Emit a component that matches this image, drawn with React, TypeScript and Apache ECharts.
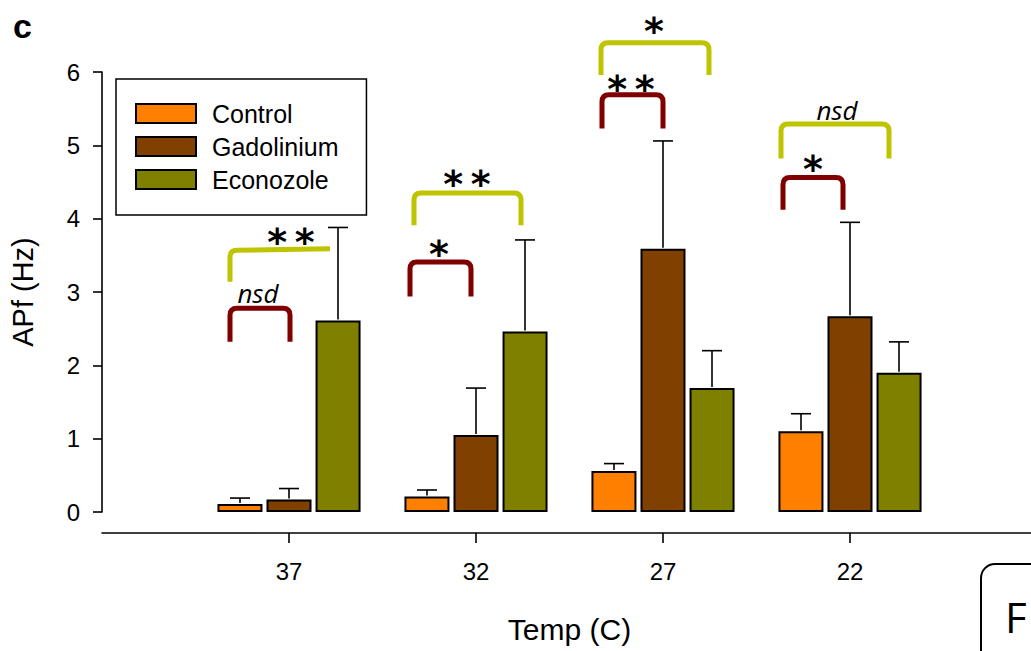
import React, { useEffect, useRef } from 'react';
import * as echarts from 'echarts';

// ---- data ----
const categories = ['37', '32', '27', '22'];
const seriesNames = ['Control', 'Gadolinium', 'Econozole'];
const controlValues = [0.11, 0.21, 0.56, 1.1];
const controlErrTop = [0.19, 0.3, 0.66, 1.34];
const gadoliniumValues = [0.17, 1.05, 3.59, 2.67];
const gadoliniumErrTop = [0.32, 1.69, 5.06, 3.95];
const econozoleValues = [2.61, 2.46, 1.69, 1.9];
const econozoleErrTop = [3.88, 3.71, 2.2, 2.32];

// significance brackets (y in data units)
const bracketCategory = ['37', '37', '32', '32', '27', '27', '22', '22'];
const bracketKind = ['gad', 'eco', 'gad', 'eco', 'gad', 'eco', 'gad', 'eco'];
const bracketTopLeft = [2.78, 3.57, 3.41, 4.35, 5.69, 6.4, 4.56, 5.29];
const bracketTopRight = [2.78, 3.59, 3.41, 4.35, 5.69, 6.4, 4.56, 5.29];
const bracketBottom = [2.32, 3.14, 2.94, 3.91, 5.23, 5.96, 4.12, 4.82];
const bracketLabel = ['nsd', '**', '*', '**', '**', '*', '*', 'nsd'];
const bracketLabelY = [2.99, 3.8, 3.64, 4.6, 5.89, 6.68, 4.8, 5.48];
const bracketHalf = [false, true, false, false, false, false, false, false];

// ---- layout / style (pixels) ----
const bracketX1 = [-59, -59, -66, -62, -61, -62, -67, -69];
const bracketX2 = [1, 41, -5, 45, 0, 46, -7, 39];
const bracketLabelX = [-31, 2, -37, -9, -32, -9, -37, -13];

const COLORS = ['#FF8000', '#804000', '#808000'];
const BRACKET_COLORS: Record<string, string> = { gad: '#800000', eco: '#BEC400' };
const FONT = 'Liberation Sans, Arial, Helvetica, sans-serif';
const BAR_WIDTH = 45;
const BAR_PITCH = 49;
const CHART_W = 1040;

export default function App() {
  const ref = useRef<HTMLDivElement>(null);

  useEffect(() => {
    document.body.style.margin = '0';
    document.body.style.overflow = 'hidden';
    if (!ref.current) return;
    const chart = echarts.init(ref.current, undefined, { renderer: 'svg' });

    const axisData = ['', ...categories, ''];
    const pad = (arr: number[]) => ['-', ...arr, '-'];
    const values = [controlValues, gadoliniumValues, econozoleValues];
    const errTops = [controlErrTop, gadoliniumErrTop, econozoleErrTop];

    const barSeries = seriesNames.map((name, i) => ({
      type: 'bar',
      name,
      data: pad(values[i]),
      barWidth: BAR_WIDTH,
      barGap: '9%',
      itemStyle: { color: COLORS[i], borderColor: '#000', borderWidth: 2 },
      z: 2,
    }));

    const errSeries = seriesNames.map((_, i) => ({
      type: 'custom',
      clip: false,
      z: 3,
      data: categories.map((c, k) => [k + 1, values[i][k], errTops[i][k]]),
      renderItem: (params: any, api: any) => {
        const x = api.value(0);
        const p0 = api.coord([x, api.value(1)]);
        const p1 = api.coord([x, api.value(2)]);
        const cx = p0[0] + (i - 1) * BAR_PITCH;
        const st = { stroke: '#000', lineWidth: 1.6 };
        return {
          type: 'group',
          children: [
            { type: 'line', shape: { x1: cx, y1: p0[1] - 1, x2: cx, y2: p1[1] }, style: st },
            { type: 'line', shape: { x1: cx - 10, y1: p1[1], x2: cx + 10, y2: p1[1] }, style: st },
          ],
        };
      },
    }));

    const bracketSeries = {
      type: 'custom',
      clip: false,
      z: 4,
      data: bracketCategory.map((c, k) => [categories.indexOf(c) + 1, bracketTopLeft[k], bracketBottom[k]]),
      renderItem: (params: any, api: any) => {
        const k = params.dataIndex;
        const xv = api.value(0);
        const c = api.coord([xv, 0])[0];
        const yL = api.coord([xv, bracketTopLeft[k]])[1];
        const yR = api.coord([xv, bracketTopRight[k]])[1];
        const yB = api.coord([xv, bracketBottom[k]])[1];
        const x1 = c + bracketX1[k];
        const x2 = c + bracketX2[k];
        const r = 7;
        let d = `M${x1} ${yB} L${x1} ${yL + r} Q${x1} ${yL} ${x1 + r} ${yL}`;
        if (bracketHalf[k]) {
          d += ` L${x2} ${yR}`;
        } else {
          d += ` L${x2 - r} ${yR} Q${x2} ${yR} ${x2} ${yR + r} L${x2} ${yB}`;
        }
        const label = bracketLabel[k];
        const isStar = label.indexOf('*') >= 0;
        const ly = api.coord([xv, bracketLabelY[k]])[1];
        return {
          type: 'group',
          children: [
            {
              type: 'path',
              shape: { pathData: d },
              style: { fill: 'none', stroke: BRACKET_COLORS[bracketKind[k]], lineWidth: 5, lineCap: 'butt', lineJoin: 'round' },
            },
            {
              type: 'text',
              x: c + bracketLabelX[k],
              y: isStar ? ly + 9 : ly,
              style: isStar
                ? {
                    text: label.split('').join('\u2009'),
                    fill: '#000',
                    font: 'bold 38px DejaVu Sans, sans-serif',
                    align: 'center',
                    verticalAlign: 'middle',
                  }
                : {
                    text: label,
                    fill: '#000',
                    font: 'italic 26px Open Sans, sans-serif',
                    align: 'center',
                    verticalAlign: 'middle',
                  },
            },
          ],
        };
      },
    };

    chart.setOption({
      animation: false,
      textStyle: { fontFamily: FONT, color: '#000' },
      grid: { left: 98, right: CHART_W - 1038, top: 72, bottom: 139, containLabel: false },
      legend: {
        data: seriesNames,
        orient: 'vertical',
        left: 116,
        top: 79,
        padding: [22, 28, 23, 19],
        itemGap: 8,
        itemWidth: 60,
        itemHeight: 19,
        borderColor: '#000',
        borderWidth: 1.5,
        icon: 'rect',
        textStyle: { fontSize: 25, fontFamily: FONT, color: '#000', padding: [0, 0, 0, 11] },
      },
      xAxis: {
        type: 'category',
        data: axisData,
        boundaryGap: false,
        offset: 21,
        axisLine: { onZero: false, lineStyle: { color: '#000', width: 1.6 } },
        axisTick: {
          length: 10,
          lineStyle: { color: '#000', width: 1.6 },
          interval: (index: number) => index > 0 && index < axisData.length - 1,
        },
        axisLabel: { fontSize: 24, color: '#000', fontFamily: FONT, margin: 26, interval: 0 },
        name: 'Temp (C)',
        nameLocation: 'middle',
        nameGap: 81,
        nameTextStyle: { fontSize: 30, color: '#000', fontFamily: FONT },
        splitLine: { show: false },
      },
      yAxis: {
        type: 'value',
        min: 0,
        max: 6,
        interval: 1,
        axisLine: { show: true, lineStyle: { color: '#000', width: 1.6 } },
        axisTick: { show: true, inside: false, length: 9, lineStyle: { color: '#000', width: 1.6 } },
        axisLabel: { fontSize: 24, color: '#000', fontFamily: FONT, margin: 22 },
        splitLine: { show: false },
        name: 'APf (Hz)',
        nameLocation: 'middle',
        nameGap: 65,
        nameTextStyle: { fontSize: 29, color: '#000', fontFamily: FONT },
      },
      graphic: [
        {
          type: 'text',
          left: 13,
          top: 9,
          style: { text: 'c', font: 'bold 34px Liberation Sans, Arial, sans-serif', fill: '#000' },
        },
        {
          type: 'rect',
          shape: { x: 981, y: 564, width: 120, height: 160, r: 14 },
          style: { fill: 'none', stroke: '#000', lineWidth: 2 },
        },
        {
          type: 'text',
          x: 1005,
          y: 616,
          style: { text: 'F', font: 'normal 42px Open Sans, sans-serif', fill: '#000', verticalAlign: 'middle' },
        },
      ],
      series: [...barSeries, ...errSeries, bracketSeries],
    });

    return () => chart.dispose();
  }, []);

  return (
    <div style={{ width: 1031, height: 651, overflow: 'hidden', position: 'relative' }}>
      <div ref={ref} style={{ width: CHART_W, height: 651 }} />
    </div>
  );
}
